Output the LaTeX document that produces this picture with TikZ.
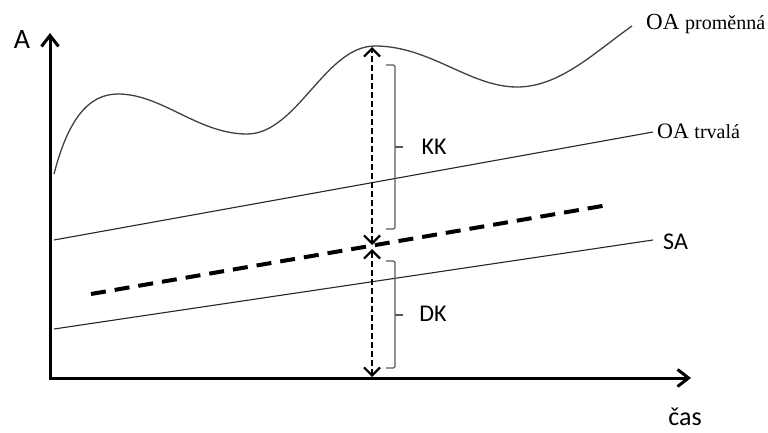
\documentclass[tikz,border=0pt]{standalone}
\usepackage{fontspec}
\setmainfont{Liberation Serif}
\newfontfamily\calib{Carlito}
\usetikzlibrary{arrows.meta}
\begin{document}
\begin{tikzpicture}[x=1pt,y=-1pt,
  axis/.style={line width=3pt,-{Straight Barb[length=11pt,width=17pt,line width=3pt]}},
  thin line/.style={line width=1.1pt,black!85},
  curve/.style={line width=1.3pt,black!75},
  trend/.style={line width=4pt,dash pattern=on 15pt off 9pt},
  gap/.style={line width=2.6pt,dash pattern=on 6pt off 3pt,{Straight Barb[length=8pt,width=16pt,line width=2.2pt]}-{Straight Barb[length=8pt,width=16pt,line width=2.2pt]}},
  bracket/.style={line width=1.3pt,black!65,rounded corners=1.5pt},
  sans/.style={font=\calib\fontsize{24}{28}\selectfont,inner sep=0pt},
  serifbig/.style={inner sep=0pt}
]
\useasboundingbox (0,0) rectangle (768,433);
% axes
\coordinate (O) at (50,378);
\coordinate (ytip) at (50,33);
\coordinate (xtip) at (691,378);
\draw[axis] ([yshift=1.5pt]O) -- (ytip);
\draw[axis] ([xshift=-1.5pt]O) -- (xtip);
\node[sans,font=\calib\fontsize{28}{32}\selectfont,anchor=base] (A) at (22,49) {A};
\node[sans,font=\calib\fontsize{26}{30}\selectfont,anchor=base] (cas) at (685,425) {čas};
% OA promenna curve
\coordinate (c0) at (54,174);
\coordinate (c1) at (118,94);
\coordinate (c2) at (247,134);
\coordinate (c3) at (375,46);
\coordinate (c4) at (517,87);
\coordinate (c5) at (632,26);
\draw[curve] (c0) .. controls (68,120) and (88,94) .. (c1)
  .. controls (162,94) and (198,134) .. (c2)
  .. controls (297,134) and (325,46) .. (c3)
  .. controls (430,46) and (470,87) .. (c4)
  .. controls (560,87) and (595,52) .. (c5);
\node[serifbig,anchor=base west] (OAp) at (646,30) {\fontsize{23}{26}\selectfont OA \fontsize{20}{24}\selectfont proměnná};
% OA trvala
\coordinate (t0) at (54,240);
\coordinate (t1) at (653,132);
\draw[thin line] (t0) -- (t1);
\node[serifbig,anchor=base west] (OAt) at (657,139) {\fontsize{22}{26}\selectfont OA \fontsize{20}{24}\selectfont trvalá};
% SA
\coordinate (s0) at (54,329);
\coordinate (s1) at (653,240);
\draw[thin line] (s0) -- (s1);
\node[sans,anchor=west] (SA) at (663,242) {SA};
% trend dashed
\coordinate (d0) at (91,294);
\coordinate (d1) at (608,205);
\draw[trend] (d0) -- (d1);
% gap arrows
\coordinate (p0) at (372,47);
\coordinate (p1) at (372,245);
\coordinate (p2) at (372,249);
\coordinate (p3) at (372,377);
\draw[gap] (p1) -- (p0);
\draw[gap] (p2) -- (p3);
% brackets
\draw[bracket] (386,65) -- (395,65) -- (395,229) -- (386,229);
\draw[bracket] (395,147) -- (403,147);
\node[sans] (KK) at (434,147) {KK};
\draw[bracket] (386,261) -- (395,261) -- (395,368) -- (386,368);
\draw[bracket] (395,315) -- (403,315);
\node[sans] (DK) at (433,314) {DK};
\end{tikzpicture}
\end{document}
